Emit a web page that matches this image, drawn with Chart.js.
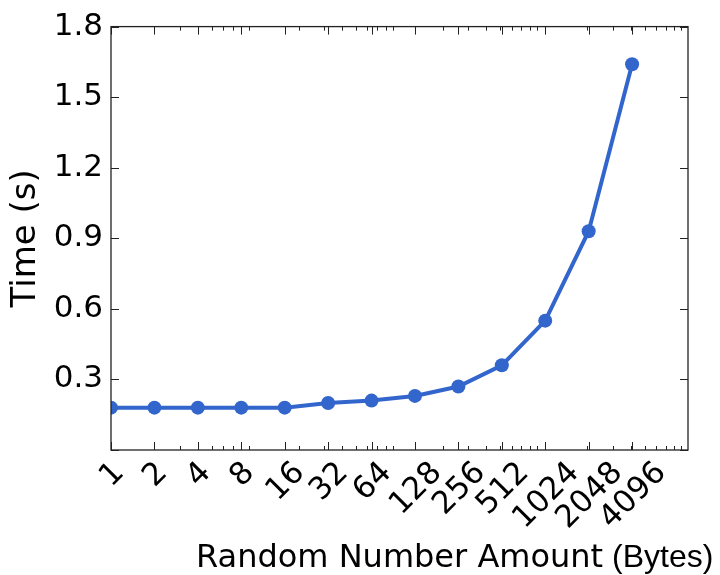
<!DOCTYPE html>
<html>
<head>
<meta charset="utf-8">
<script src="https://cdn.jsdelivr.net/npm/chart.js@4/dist/chart.umd.min.js"></script>
<style>
  html, body { margin: 0; padding: 0; background: #fff; }
  #wrap { width: 720px; height: 575px; }
</style>
</head>
<body>
<div id="wrap"><canvas id="myChart" width="720" height="575"></canvas></div>
<script>
const byteAmounts = [1, 2, 4, 8, 16, 32, 64, 128, 256, 512, 1024, 2048, 4096];
const xTickLabels = ['1', '2', '4', '8', '16', '32', '64', '128', '256', '512', '1024', '2048', '4096'];
const timeSeconds = [0.18, 0.18, 0.18, 0.18, 0.18, 0.20, 0.21, 0.23, 0.27, 0.36, 0.55, 0.93, 1.64];
const yTicks = [0, 0.3, 0.6, 0.9, 1.2, 1.5, 1.8];
const yTickLabels = ['', '0.3', '0.6', '0.9', '1.2', '1.5', '1.8'];

const lineColor = '#3366cc';
const tickFont = '31px "DejaVu Sans"';

// matplotlib-ish frame, inward ticks, rotated x labels, two-font x title
const axesPlugin = {
	id: 'axesPlugin',
	afterDraw(chart) {
		const { ctx, chartArea: a, scales } = chart;
		const x = scales.x, y = scales.y;
		ctx.save();
		ctx.strokeStyle = '#222';
		ctx.lineWidth = 1.3;
		ctx.strokeRect(a.left, a.top, a.right - a.left, a.bottom - a.top);

		ctx.lineWidth = 1;
		ctx.beginPath();
		yTicks.forEach(v => {
			const py = Math.round(y.getPixelForValue(v)) + 0.5;
			ctx.moveTo(a.left, py); ctx.lineTo(a.left + 8, py);
			ctx.moveTo(a.right, py); ctx.lineTo(a.right - 8, py);
		});
		byteAmounts.forEach(v => {
			const px = Math.round(x.getPixelForValue(v)) + 0.5;
			ctx.moveTo(px, a.bottom); ctx.lineTo(px, a.bottom - 8);
			ctx.moveTo(px, a.top); ctx.lineTo(px, a.top + 8);
		});
		for (let k = 0; k < 4; k++) {
			for (let m = 2; m <= 9; m++) {
				const px = Math.round(x.getPixelForValue(m * Math.pow(10, k))) + 0.5;
				ctx.moveTo(px, a.bottom); ctx.lineTo(px, a.bottom - 4);
				ctx.moveTo(px, a.top); ctx.lineTo(px, a.top + 4);
			}
		}
		ctx.stroke();

		ctx.fillStyle = '#000';
		ctx.font = tickFont;
		ctx.textAlign = 'center';
		ctx.textBaseline = 'middle';
		const h = 31 * 1.16;
		byteAmounts.forEach((v, i) => {
			const w = ctx.measureText(xTickLabels[i]).width;
			const px = x.getPixelForValue(v);
			const cy = a.bottom + 4 + (w + h) / (2 * Math.SQRT2);
			ctx.save();
			ctx.translate(px, cy);
			ctx.rotate(-Math.PI / 4);
			ctx.fillText(xTickLabels[i], 0, 2);
			ctx.restore();
		});

		ctx.textAlign = 'left';
		ctx.textBaseline = 'alphabetic';
		ctx.font = '32px "DejaVu Sans"';
		ctx.fillText('Random Number Amount', 196, 567);
		ctx.font = '32px "Liberation Sans"';
		ctx.fillText('(Bytes)', 612, 567);
		ctx.restore();
	}
};

const ctx = document.getElementById('myChart').getContext('2d');
let myChart = new Chart(ctx, {
	type: 'line',
	data: {
		datasets: [
			{
				data: byteAmounts.map((b, i) => ({ x: b, y: timeSeconds[i] })),
				borderColor: lineColor,
				backgroundColor: lineColor,
				borderWidth: 4,
				pointRadius: 7,
				pointBorderWidth: 0,
				pointBackgroundColor: lineColor,
				tension: 0,
				clip: 0
			}
		]
	},
	options: {
		responsive: false,
		animation: false,
		devicePixelRatio: 1,
		layout: { padding: { top: 24, right: 32, left: 0, bottom: 0 } },
		plugins: { legend: { display: false }, tooltip: { enabled: false } },
		scales: {
			x: {
				type: 'logarithmic',
				min: 1,
				max: 10000,
				grid: { display: false },
				border: { display: false },
				ticks: { display: false },
				afterBuildTicks: scale => { scale.ticks = byteAmounts.map(v => ({ value: v })); },
				afterFit: scale => { scale.height = 125; }
			},
			y: {
				min: 0,
				max: 1.8,
				grid: { display: false, drawTicks: false },
				border: { display: false },
				afterBuildTicks: scale => { scale.ticks = yTicks.map(v => ({ value: v })); },
				ticks: {
					color: '#000',
					padding: 8,
					font: { family: 'DejaVu Sans', size: 31 },
					callback: (v, i) => yTickLabels[i]
				},
				title: {
					display: true,
					text: 'Time (s)',
					color: '#000',
					font: { family: 'DejaVu Sans', size: 34 },
					padding: { top: 6, bottom: 0 }
				},
				afterFit: scale => { scale.width = 111; }
			}
		}
	},
	plugins: [axesPlugin]
});
</script>
</body>
</html>
